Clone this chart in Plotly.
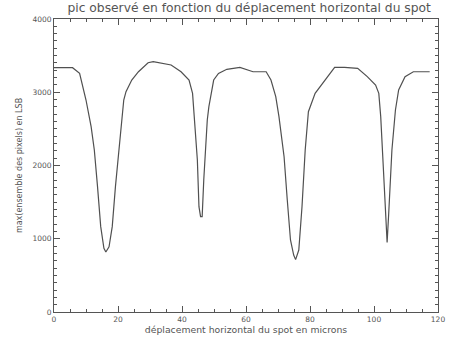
import plotly.graph_objects as go

# Data
x_microns = [0, 5.8, 8.0, 10.0, 11.6, 12.6, 13.6, 14.6, 15.6, 16.2, 17.2, 18.2, 19.2, 20.5, 21.8, 22.5,
             24.3, 26.4, 29.4, 31.0, 32.5, 36.6, 39.7, 42.2, 43.3, 44.0, 44.8, 45.3, 45.8, 46.3, 46.8,
             47.9, 48.4, 49.9, 51.4, 54.0, 58.1, 62.2, 66.3, 67.8, 69.3, 70.3, 71.9, 72.9, 73.9, 74.9,
             75.5, 76.5, 77.5, 78.5, 79.5, 81.6, 84.7, 87.7, 90.8, 94.9, 97.9, 100.5, 101.5, 102.1,
             102.9, 103.6, 104.1, 104.6, 105.6, 106.7, 107.7, 109.7, 112.3, 117.4]
max_lsb = [3335, 3335, 3258, 2894, 2530, 2212, 1711, 1165, 870, 820, 891, 1165, 1711, 2348, 2894, 3008,
           3167, 3280, 3403, 3417, 3403, 3372, 3280, 3167, 2985, 2576, 2075, 1438, 1301, 1301, 1802,
           2621, 2803, 3167, 3258, 3313, 3340, 3280, 3280, 3167, 2940, 2667, 2120, 1529, 983, 778,
           715, 846, 1438, 2212, 2734, 2985, 3167, 3340, 3340, 3326, 3213, 3099, 2985, 2667,
           1984, 1392, 950, 1347, 2212, 2758, 3031, 3213, 3280, 3280]

x_tick_step = 20
y_tick_step = 1000
x_minor_step = 5
y_minor_step = 100

title_text = "pic observé en fonction du déplacement horizontal du spot"
x_title = "déplacement horizontal du spot en microns"
y_title = "max(ensemble des pixels) en LSB"

axcol = "#555555"
txtcol = "#555555"

fig = go.Figure()
fig.add_trace(go.Scatter(x=x_microns, y=max_lsb, mode="lines",
                         line=dict(color="#505050", width=1.2), showlegend=False))

common = dict(showgrid=False, zeroline=False, showline=True, linecolor=axcol, linewidth=1,
              mirror="allticks", ticks="inside", ticklen=6, tickcolor=axcol, tickwidth=1,
              tickmode="linear", tick0=0, ticklabeloverflow="allow",
              tickfont=dict(family="DejaVu Sans", size=7.5, color=txtcol))

fig.update_layout(
    xaxis=dict(range=[-0.0001, 120], dtick=x_tick_step,
               minor=dict(tickmode="linear", tick0=0, dtick=x_minor_step, ticks="inside",
                          ticklen=3, tickwidth=1, tickcolor=axcol, showgrid=False),
               title=dict(text=x_title, font=dict(family="DejaVu Sans", size=9.3, color=txtcol), standoff=2),
               **common),
    yaxis=dict(range=[0, 4000], dtick=y_tick_step,
               minor=dict(tickmode="linear", tick0=0, dtick=y_minor_step, ticks="inside",
                          ticklen=3, tickwidth=1, tickcolor=axcol, showgrid=False),
               title=dict(text=y_title, font=dict(family="DejaVu Sans", size=8, color=txtcol), standoff=8),
               **common),
    width=453, height=344,
    margin=dict(l=54, r=8, t=19, b=32),
    paper_bgcolor="white", plot_bgcolor="white",
    title=dict(text=title_text, x=0.55, xanchor="center", y=0.99, yanchor="top",
               font=dict(family="DejaVu Sans", size=12.3, color=txtcol)),
)

fig.write_html("out.html", config={"displayModeBar": False},
               post_script="document.body.style.margin='0';")
